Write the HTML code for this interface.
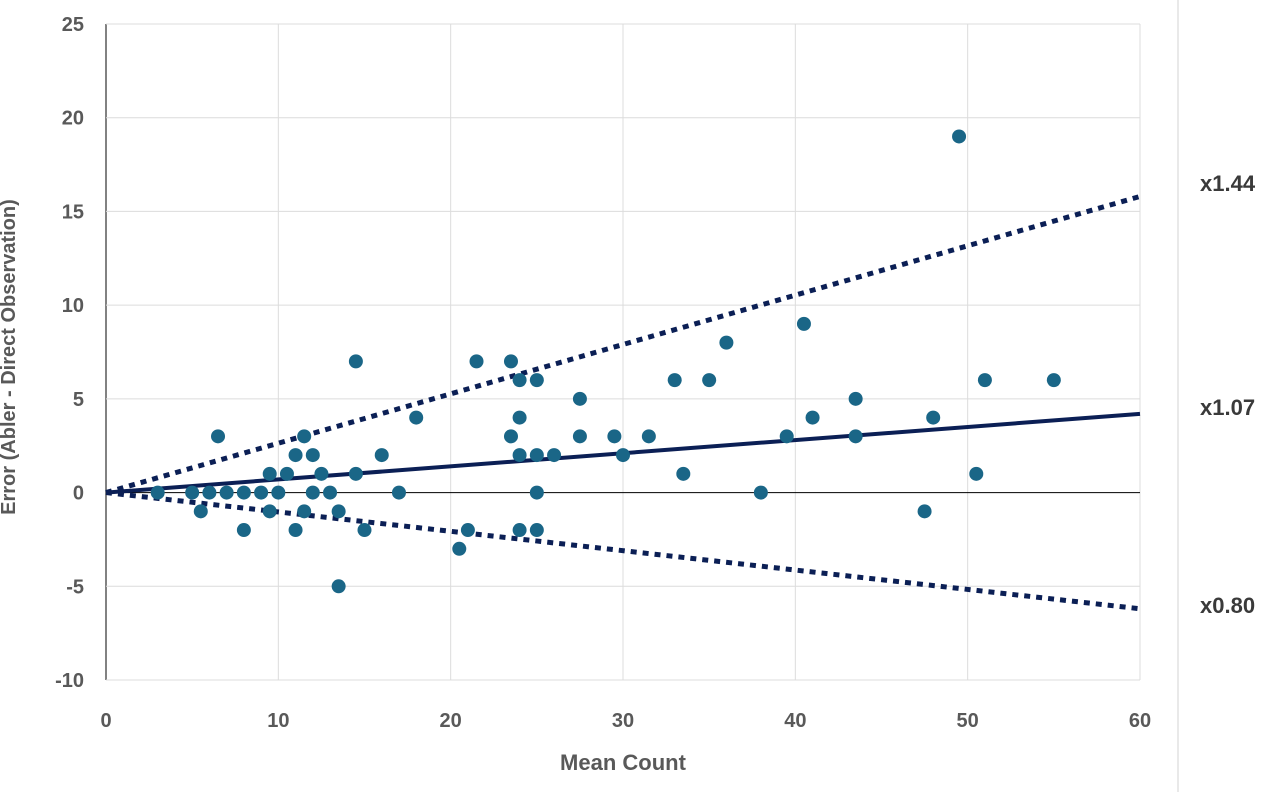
<!DOCTYPE html>
<html><head><meta charset="utf-8"><style>
body{margin:0;background:#fff;width:1280px;height:792px;overflow:hidden}
svg{font-family:"Liberation Sans",sans-serif}
</style></head><body>
<svg id="c" width="1280" height="792">
<line x1="1178" y1="0" x2="1178" y2="792" stroke="#e2e2e2" stroke-width="1.5"/>
<g id="grid"></g><g id="lines"></g><g id="pts"></g><g id="labels"></g>
<text x="15" y="357" transform="rotate(-90 15 357)" text-anchor="middle" font-size="20" font-weight="bold" fill="#595959">Error (Abler - Direct Observation)</text>
<text x="623" y="770" text-anchor="middle" font-size="22" font-weight="bold" fill="#595959">Mean Count</text>
</svg>
<script>
const xTicks=[0,10,20,30,40,50,60];
const yTicks=[25,20,15,10,5,0,-5,-10];
const xs=[3,5,5.5,6,6.5,7,8,8,9,9.5,9.5,10,10.5,11,11,11.5,11.5,12,12,12.5,13,13.5,13.5,14.5,14.5,15,16,17,18,20.5,21,21.5,23.5,23.5,24,24,24,24,25,25,25,25,26,27.5,27.5,29.5,30,31.5,33,33.5,35,36,38,39.5,40.5,41,43.5,43.5,47.5,48,49.5,50.5,51,55];
const ys=[0,0,-1,0,3,0,0,-2,0,1,-1,0,1,2,-2,3,-1,2,0,1,0,-1,-5,7,1,-2,2,0,4,-3,-2,7,7,3,6,4,2,-2,6,2,0,-2,2,5,3,3,2,3,6,1,6,8,0,3,9,4,5,3,-1,4,19,1,6,6];
const ratioLabels=["x1.44","x1.07","x0.80"];
const lineEnds=[15.8,4.2,-6.2];
const labelY=[191,415,613];
const X=v=>106+v*(1034/60), Y=v=>24+(25-v)*(656/35);
const NS="http://www.w3.org/2000/svg";
function mk(p,t,a){const e=document.createElementNS(NS,t);for(const k in a)e.setAttribute(k,a[k]);document.getElementById(p).appendChild(e);return e;}
xTicks.forEach(v=>{
 const l=mk('grid','line',{x1:X(v),x2:X(v),y1:24,y2:680,stroke:v===0?'#595959':'#dcdcdc','stroke-width':v===0?1.5:1});
 
 
 const t=mk('labels','text',{x:X(v),y:727,'text-anchor':'middle','font-size':20,'font-weight':'bold',fill:'#595959'});t.textContent=v;
 
 
});
yTicks.forEach(v=>{
 const l=mk('grid','line',{x1:106,x2:1140,y1:Y(v),y2:Y(v),stroke:v===0?'#000':'#dcdcdc','stroke-width':1});
 
 
 const t=mk('labels','text',{x:84,y:Y(v)+7,'text-anchor':'end','font-size':20,'font-weight':'bold',fill:'#595959'});t.textContent=v;
 
 
});
lineEnds.forEach((e,i)=>{
 const l=mk('lines','line',{x1:X(0),y1:Y(0),x2:X(60),y2:Y(e),stroke:'#0b1f55','stroke-width':i===1?4:5});
 if(i!==1)l.setAttribute('stroke-dasharray','6 6');
 
 
 const t=mk('labels','text',{x:1200,y:labelY[i],'font-size':22,'font-weight':'bold',fill:'#3a3a3a'});t.textContent=ratioLabels[i];
 
 
});
xs.forEach((x,i)=>{
 const c=mk('pts','circle',{cx:X(x),cy:Y(ys[i]),r:7,fill:'#1a6687'});
 
 
});
</script>
</body></html>
